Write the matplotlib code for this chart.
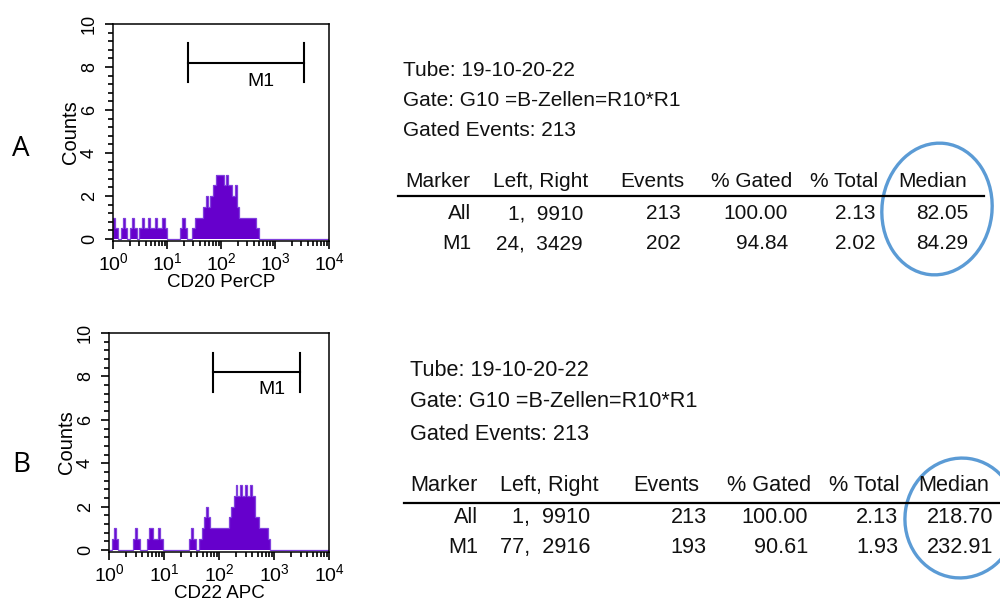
import numpy as np
import matplotlib
matplotlib.use("Agg")
import matplotlib.pyplot as plt
from matplotlib.patches import Ellipse
from matplotlib.ticker import MultipleLocator, LogLocator, NullFormatter

plt.rcParams["font.family"] = ["Liberation Sans", "DejaVu Sans"]
plt.rcParams["mathtext.default"] = "regular"

# ---- histogram data: log10 bin edges and event counts per bin ----
a_edges = [0.00, 0.04, 0.09, 0.15, 0.18, 0.22, 0.26, 0.31, 0.35, 0.39, 0.44,
           0.48, 0.525, 0.565, 0.645, 0.685, 0.77, 0.81, 0.91, 0.95, 0.99,
           1.235, 1.28, 1.32, 1.36, 1.46, 1.51, 1.67, 1.72, 1.75, 1.79, 1.85,
           1.90, 2.05, 2.09, 2.12, 2.20, 2.25, 2.29, 2.33, 2.64, 2.69, 4.00]
a_counts = [1.0, 0.5, 0.0, 0.5, 1.0, 0.5, 0.0, 0.5, 1.0, 0.5,
            0.0, 0.5, 1.0, 0.5, 1.0, 0.5, 1.0, 0.5, 1.0, 0.5,
            0.0, 0.5, 1.0, 0.5, 0.0, 0.5, 1.0, 1.5, 2.0, 1.5,
            2.0, 2.5, 3.0, 2.5, 3.0, 2.5, 2.0, 2.5, 1.5, 1.0, 0.5, 0.0]

b_edges = [0.00, 0.04, 0.08, 0.12, 0.16, 0.43, 0.47, 0.51, 0.55, 0.68, 0.72,
           0.80, 0.89, 0.93, 0.98, 1.45, 1.49, 1.53, 1.58, 1.63, 1.68, 1.72,
           1.76, 1.80, 1.84, 2.18, 2.22, 2.26, 2.30, 2.33, 2.38, 2.42, 2.47,
           2.51, 2.56, 2.60, 2.65, 2.73, 2.89, 2.93, 4.00]
b_counts = [0.0, 0.5, 1.0, 0.5, 0.0, 0.5, 1.0, 0.5, 0.0, 0.5,
            1.0, 0.5, 1.0, 0.5, 0.0, 0.5, 1.0, 0.5, 0.0, 0.5,
            1.0, 1.5, 2.0, 1.5, 1.0, 1.5, 2.0, 2.5, 3.0, 2.5,
            3.0, 2.5, 3.0, 2.5, 3.0, 2.5, 1.5, 1.0, 0.5, 0.0]

a_xlabel = "CD20 PerCP"
b_xlabel = "CD22 APC"

# ---- statistics tables ----
info_a = ["Tube: 19-10-20-22", "Gate: G10 =B-Zellen=R10*R1", "Gated Events: 213"]
info_b = ["Tube: 19-10-20-22", "Gate: G10 =B-Zellen=R10*R1", "Gated Events: 213"]
table_header = ["Marker", "Left, Right", "Events", "% Gated", "% Total", "Median"]
rows_a = [["All", "1,  9910", "213", "100.00", "2.13", "82.05"],
          ["M1", "24,  3429", "202", "94.84", "2.02", "84.29"]]
rows_b = [["All", "1,  9910", "213", "100.00", "2.13", "218.70"],
          ["M1", "77,  2916", "193", "90.61", "1.93", "232.91"]]
m1_a = (24, 3429)
m1_b = (77, 2916)

PURPLE = "#6600cc"
W, H = 1000, 612
fig = plt.figure(figsize=(W / 100, H / 100), dpi=100)


def hist_panel(rect, edges, counts, xlabel, marker):
    ax = fig.add_axes(rect)
    bins = 10 ** np.asarray(edges)
    ax.stairs(counts, bins, fill=True, color=PURPLE, lw=0)
    ax.stairs(counts, bins, fill=False, color="#8040dd", lw=0.9)
    ax.set_xscale("log")
    ax.set_xlim(1, 1e4)
    ax.set_ylim(-0.09, 10)
    ax.xaxis.set_major_locator(LogLocator(base=10, numticks=10))
    ax.xaxis.set_minor_locator(LogLocator(base=10, subs=np.arange(2, 10), numticks=20))
    ax.xaxis.set_minor_formatter(NullFormatter())
    ax.yaxis.set_major_locator(MultipleLocator(2))
    ax.yaxis.set_minor_locator(MultipleLocator(0.4))
    ax.tick_params(which="major", direction="out", length=6, width=1.2,
                   labelsize=14, color="black")
    ax.tick_params(which="minor", direction="out", length=3.5, width=1.2)
    ax.tick_params(axis="x", pad=2)
    ax.tick_params(axis="y", labelsize=13, pad=5, labelrotation=90)
    for lbl in ax.get_yticklabels():
        lbl.set_va("center")
    for s in ax.spines.values():
        s.set_linewidth(1.1)
    ax.set_ylabel("Counts", fontsize=14.5, labelpad=1)
    ax.set_xlabel(xlabel, fontsize=13.5, labelpad=0)
    # M1 gate marker bar
    lo, hi = marker
    ax.plot([lo, hi], [8.2, 8.2], color="black", lw=1.5)
    ax.plot([lo, lo], [7.3, 9.1], color="black", lw=1.5)
    ax.plot([hi, hi], [7.3, 9.1], color="black", lw=1.5)
    return ax


axA = hist_panel([113.3 / W, 1 - 241 / H, 216 / W, 217 / H],
                 a_edges, a_counts, a_xlabel, m1_a)
axA.text(10 ** 2.73, 7.34, "M1", fontsize=14, ha="center", va="center")
axB = hist_panel([109.3 / W, 1 - 552 / H, 220 / W, 219 / H],
                 b_edges, b_counts, b_xlabel, m1_b)
axB.text(10 ** 2.95, 7.4, "M1", fontsize=14, ha="center", va="center")

# ---- overlay in pixel coordinates for text blocks and highlights ----
ov = fig.add_axes([0, 0, 1, 1], zorder=5)
ov.set_xlim(0, W)
ov.set_ylim(H, 0)
ov.axis("off")
ov.patch.set_alpha(0)

ov.text(21, 149, "A", fontsize=20, ha="center", va="center", family="Open Sans")
ov.text(21, 465, "B", fontsize=20, ha="center", va="center", family="Open Sans")


def stats_block(x0, info_base, size, head_x, val_right, base_y, line_span, line_y, rows):
    for i, line in enumerate(info_base[1]):
        ov.text(x0, info_base[0][i], line, fontsize=size, ha="left", va="baseline",
                color="#111111")
    for hx, h in zip(head_x, table_header):
        ov.text(hx, base_y[0], h, fontsize=size, ha="left", va="baseline", color="#111111")
    ov.plot(line_span, [line_y, line_y], color="black", lw=1.6)
    for r, row in enumerate(rows):
        for vx, v in zip(val_right, row):
            ov.text(vx, base_y[r + 1], v, fontsize=size, ha="right", va="baseline",
                    color="#111111")


stats_block(403, ([75.5, 105.5, 136.5], info_a), 15,
            [405, 493, 620, 711, 810, 898], [471, 583, 681, 788, 876, 968],
            [187, 219, 249], [398, 984], 196, rows_a)
stats_block(410, ([376, 407, 440], info_b), 15.6,
            [410, 500, 633, 727, 829, 918], [478, 590, 707, 808, 898, 993],
            [491, 523, 553], [404, 1000], 503, rows_b)

ov.add_patch(Ellipse((937, 209), 110, 132, angle=7, fill=False,
                     edgecolor="#5b9bd5", lw=2.4))
ov.add_patch(Ellipse((961, 518), 112, 120, angle=8, fill=False,
                     edgecolor="#5b9bd5", lw=2.4))

fig.savefig("out.png", dpi=100)
